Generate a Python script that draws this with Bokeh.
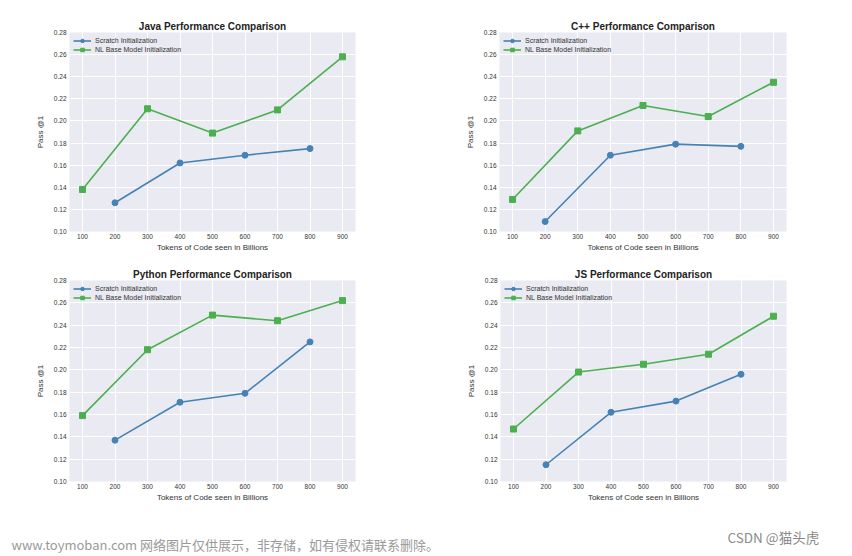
from bokeh.plotting import figure
from bokeh.layouts import column, row
from bokeh.models import FixedTicker, NumeralTickFormatter, Legend, LegendItem, Label
from bokeh.embed import file_html
from bokeh.resources import INLINE

tokens_scratch = [200, 400, 600, 800]
tokens_nl = [100, 300, 500, 700, 900]

java_scratch = [0.126, 0.162, 0.169, 0.175]
java_nl = [0.138, 0.211, 0.189, 0.210, 0.258]
cpp_scratch = [0.109, 0.169, 0.179, 0.177]
cpp_nl = [0.129, 0.191, 0.214, 0.204, 0.235]
python_scratch = [0.137, 0.171, 0.179, 0.225]
python_nl = [0.159, 0.218, 0.249, 0.244, 0.262]
js_scratch = [0.115, 0.162, 0.172, 0.196]
js_nl = [0.147, 0.198, 0.205, 0.214, 0.248]

x_ticks = [100, 200, 300, 400, 500, 600, 700, 800, 900]
y_ticks = [0.10, 0.12, 0.14, 0.16, 0.18, 0.20, 0.22, 0.24, 0.26, 0.28]

series_labels = ["Scratch Initialization", "NL Base Model Initialization"]
x_label = "Tokens of Code seen in Billions"
y_label = "Pass @1"

BLUE = "#4682B4"
GREEN = "#4CAF50"
FONT = "Liberation Sans"


def make_panel(title, scratch, nl, width, height, bl, br, bt, bb):
    p = figure(width=width, height=height, x_range=(60, 940), y_range=(0.10, 0.28),
               output_backend="svg", toolbar_location=None, title=title,
               min_border_left=bl, min_border_right=br, min_border_top=bt,
               min_border_bottom=bb)
    p.background_fill_color = "#EAEAF2"
    p.border_fill_color = "white"
    p.outline_line_color = None
    p.title.text_font = FONT
    p.title.text_font_size = "10px"
    p.title.text_font_style = "bold"
    p.title.text_color = "#222222"
    p.title.align = "center"
    p.title.standoff = 2

    for ax in (p.xaxis[0], p.yaxis[0]):
        ax.axis_line_color = None
        ax.major_tick_line_color = None
        ax.minor_tick_line_color = None
        ax.major_tick_out = 0
        ax.major_tick_in = 0
        ax.major_label_text_font = FONT
        ax.major_label_text_font_size = "6.5px"
        ax.major_label_text_color = "#333333"
        ax.axis_label_text_font = FONT
        ax.axis_label_text_font_size = "8px"
        ax.axis_label_text_font_style = "normal"
        ax.axis_label_text_color = "#333333"
    p.xaxis.ticker = FixedTicker(ticks=x_ticks)
    p.yaxis.ticker = FixedTicker(ticks=y_ticks)
    p.yaxis.formatter = NumeralTickFormatter(format="0.00")
    p.xaxis.axis_label = x_label
    p.yaxis.axis_label = y_label
    p.xaxis.major_label_standoff = 2
    p.yaxis.major_label_standoff = 3
    p.xaxis.axis_label_standoff = 1
    p.yaxis.axis_label_standoff = 6

    for g in (p.xgrid[0], p.ygrid[0]):
        g.grid_line_color = "white"
        g.grid_line_width = 1

    l1 = p.line(tokens_scratch, scratch, line_color=BLUE, line_width=1.6)
    m1 = p.scatter(tokens_scratch, scratch, marker="circle", size=6,
                   fill_color=BLUE, line_color=BLUE)
    l2 = p.line(tokens_nl, nl, line_color=GREEN, line_width=1.6)
    m2 = p.scatter(tokens_nl, nl, marker="square", size=6,
                   fill_color=GREEN, line_color=GREEN)

    legend = Legend(items=[LegendItem(label=series_labels[0], renderers=[l1, m1]),
                           LegendItem(label=series_labels[1], renderers=[l2, m2])],
                    location="top_left")
    legend.background_fill_alpha = 0
    legend.border_line_alpha = 0
    legend.label_text_font = FONT
    legend.label_text_font_size = "7px"
    legend.label_text_color = "#333333"
    legend.glyph_height = 9
    legend.glyph_width = 18
    legend.label_height = 9
    legend.spacing = 0
    legend.padding = 4
    legend.margin = 0
    legend.label_standoff = 4
    p.add_layout(legend)
    return p


java = make_panel("Java Performance Comparison", java_scratch, java_nl, 420, 254, 69, 65, 28, 22)
cpp = make_panel("C++ Performance Comparison", cpp_scratch, cpp_nl, 386, 254, 79, 20, 32, 22)
python = make_panel("Python Performance Comparison", python_scratch, python_nl, 420, 254, 69, 65, 24, 26)
js = make_panel("JS Performance Comparison", js_scratch, js_nl, 386, 254, 80, 20, 26, 27)

wm = figure(width=846, height=48, output_backend="svg", toolbar_location=None,
            min_border=0, x_axis_type=None, y_axis_type=None)
wm.outline_line_color = None
wm.xgrid.visible = False
wm.ygrid.visible = False
wm.add_layout(Label(x=11, y=12, x_units="screen", y_units="screen",
                    text="www.toymoban.com 网络图片仅供展示，非存储，如有侵权请联系删除。",
                    text_font="Noto Sans CJK SC", text_font_size="13px",
                    text_color="#9a9a9a", text_baseline="middle"))
wm.add_layout(Label(x=727, y=20, x_units="screen", y_units="screen",
                    text="CSDN @猫头虎",
                    text_font="Noto Sans CJK SC", text_font_size="13.5px",
                    text_color="#8a8a8a", text_baseline="middle"))

layout = column(row(java, cpp), row(python, js), wm, spacing=0)
open("out.html", "w").write(file_html(layout, INLINE))
